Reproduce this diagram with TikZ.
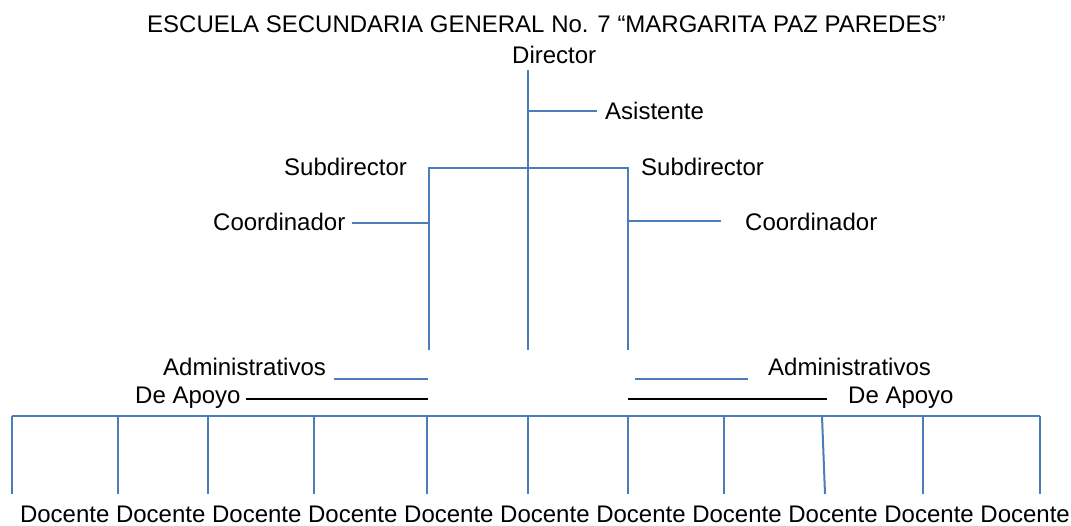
\documentclass[tikz,border=0pt]{standalone}
\usepackage{fontspec}
\setmainfont{Liberation Sans}
\definecolor{orgblue}{HTML}{4A7EBB}
\begin{document}
\begin{tikzpicture}[x=1pt,y=-1pt,
  lbl/.style={font=\fontsize{24}{28}\selectfont, inner sep=0pt, text=black},
  bl/.style={draw=orgblue, line width=2pt},
  bk/.style={draw=black, line width=2pt}]
\useasboundingbox (0,0) rectangle (1071,525);
% texts
\node[lbl, anchor=base west] (title) at (147,32) {ESCUELA SECUNDARIA GENERAL No. 7 “MARGARITA PAZ PAREDES”};
\node[lbl, anchor=base west] (dir) at (512,63) {Director};
\node[lbl, anchor=base west] (asis) at (605,119) {Asistente};
\node[lbl, anchor=base west] (subL) at (284,175) {Subdirector};
\node[lbl, anchor=base west] (subR) at (641,175) {Subdirector};
\node[lbl, anchor=base west] (coL) at (213,230) {Coordinador};
\node[lbl, anchor=base west] (coR) at (745,230) {Coordinador};
\node[lbl, anchor=base west] (adL) at (163,375) {Administrativos};
\node[lbl, anchor=base west] (adR) at (768,375) {Administrativos};
\node[lbl, anchor=base west] (apL) at (135,403) {De Apoyo};
\node[lbl, anchor=base west] (apR) at (848,403) {De Apoyo};
\node[lbl, anchor=base] (doc) at (545,522) {Docente Docente Docente Docente Docente Docente Docente Docente Docente Docente Docente};
% coordinates
\coordinate (trT) at (528,70);
\coordinate (trB) at (528,350);
\coordinate (trA) at (528,111);
\coordinate (asE) at (597,111);
\coordinate (trS) at (528,168);
\coordinate (sL) at (429,168);
\coordinate (sR) at (628,168);
\coordinate (sLB) at (429,350);
\coordinate (sRB) at (628,350);
\coordinate (cLj) at (429,223);
\coordinate (cLe) at (352,223);
\coordinate (cRj) at (628,221);
\coordinate (cRe) at (721,221);
\coordinate (aLs) at (334,379);
\coordinate (aLe) at (428,379);
\coordinate (aRs) at (635,379);
\coordinate (aRe) at (748,379);
\coordinate (pLs) at (246,399);
\coordinate (pLe) at (428,399);
\coordinate (pRs) at (628,399);
\coordinate (pRe) at (827,399);
\coordinate (hL) at (12,416);
\coordinate (hR) at (1040,416);
% lines
\draw[bl] (trT) -- (trB);
\draw[bl] (trA) -- (asE);
\draw[bl] (sLB) -- (sL) -- (sR) -- (sRB);
\draw[bl] (cLe) -- (cLj);
\draw[bl] (cRj) -- (cRe);
\draw[bl] (aLs) -- (aLe);
\draw[bl] (aRs) -- (aRe);
\draw[bk] (pLs) -- (pLe);
\draw[bk] (pRs) -- (pRe);
\draw[bl] (hL) -- (hR);
\foreach \x/\xb in {12/12,118/118,208/208,314/314,427/427,528/528,628/628,724/724,822/825,923/923,1040/1040}
  \draw[bl] (\x,416) -- (\xb,494);
\end{tikzpicture}
\end{document}
